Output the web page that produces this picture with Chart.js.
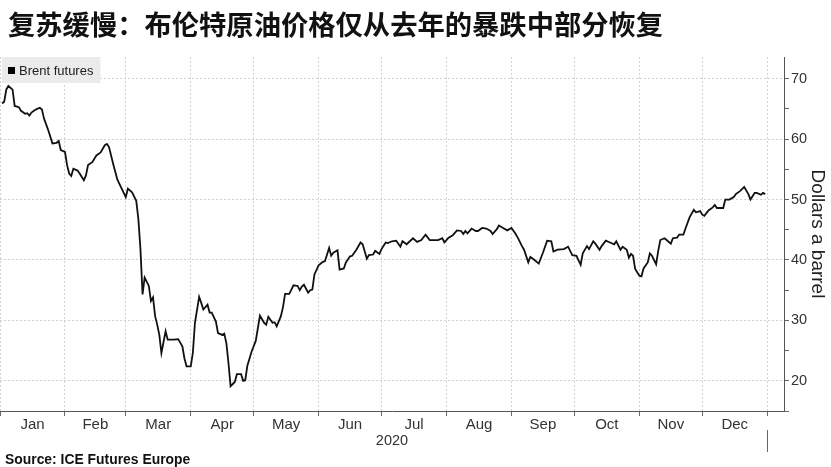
<!DOCTYPE html>
<html>
<head>
<meta charset="utf-8">
<script src="https://cdn.jsdelivr.net/npm/chart.js@4.4.0/dist/chart.umd.min.js"></script>
<style>
  html, body { margin: 0; padding: 0; background: #fff; }
  #wrap { position: relative; width: 831px; height: 467px; overflow: hidden; }
  #title { position: absolute; left: 8px; top: 3px; font: bold 27.3px "Noto Sans CJK SC", sans-serif; color: #111; white-space: nowrap; }
  #source { position: absolute; left: 5px; top: 451px; font: bold 13.9px "Liberation Sans", sans-serif; color: #111; }
  canvas { position: absolute; left: 0; top: 0; }
</style>
</head>
<body>
<div id="wrap">
  <canvas id="chart" width="831" height="467"></canvas>
  <div id="title">复苏缓慢：布伦特原油价格仅从去年的暴跌中部分恢复</div>
  <div id="source">Source: ICE Futures Europe</div>
</div>
<script>
// day of year 2020 (0 = Jan 1) and Brent settle
const days = [
  1, 2, 3, 4, 6, 7, 9, 10, 12, 13, 14, 15, 17, 19, 20, 21, 23, 25, 27, 28,
  29, 31, 32, 33, 34, 35, 37, 38, 40, 41, 42, 44, 46, 48, 50, 51, 52, 54, 56, 60,
  61, 63, 65, 66, 67, 68, 69, 71, 72, 73, 74, 75, 76, 77, 79, 80, 83, 85, 87, 88,
  89, 91, 92, 93, 95, 96, 97, 99, 100, 101, 103, 104, 106, 107, 108, 109, 110, 112, 113, 115,
  116, 117, 118, 120, 122, 124, 126, 127, 128, 130, 131, 132, 134, 135, 136, 138, 139, 140, 142, 143,
  144, 145, 147, 148, 149, 150, 152, 154, 155, 157, 158, 159, 161, 162, 164, 165, 167, 168, 170, 172,
  173, 175, 176, 178, 179, 181, 182, 184, 185, 187, 189, 191, 192, 194, 197, 199, 201, 203, 205, 208,
  209, 211, 212, 214, 216, 218, 220, 221, 222, 223, 225, 227, 228, 230, 232, 234, 235, 237, 238, 240,
  242, 244, 246, 247, 249, 250, 252, 253, 255, 257, 259, 261, 263, 264, 266, 269, 271, 273, 275, 277,
  278, 280, 281, 283, 284, 286, 287, 289, 291, 293, 294, 296, 297, 299, 300, 301, 302, 303, 305, 306,
  307, 309, 310, 311, 313, 314, 315, 317, 318, 320, 321, 323, 324, 326, 327, 329, 331, 332, 334, 335,
  336, 338, 340, 341, 342, 345, 346, 348, 350, 351, 353, 355, 357, 358, 360, 361, 363, 364, 365
];
const brent = [
  65.9, 66.2, 68.2, 68.8, 68.2, 65.5, 65.3, 64.7, 64.2, 64.3, 63.9, 64.4, 64.9, 65.2, 64.9, 63.4, 61.5, 59.3, 59.4, 59.7,
  58.2, 57.9, 55.7, 54.3, 53.9, 55.1, 54.8, 54.3, 53.2, 54.0, 55.7, 56.2, 57.3, 57.8, 59.0, 59.2, 58.7, 55.9, 53.3, 50.4,
  51.8, 51.2, 49.8, 46.8, 41.8, 34.3, 37.1, 35.7, 33.2, 33.8, 30.7, 29.3, 27.6, 24.6, 28.2, 26.8, 26.8, 26.9, 25.7, 23.7,
  22.4, 22.4, 24.6, 29.6, 33.9, 32.9, 31.8, 32.6, 31.3, 31.3, 29.8, 27.9, 27.6, 27.8, 26.2, 22.9, 19.1, 19.8, 21.1, 21.1,
  20.0, 20.1, 22.5, 24.8, 26.6, 30.8, 29.6, 29.3, 30.6, 29.6, 29.7, 29.0, 30.7, 32.2, 34.4, 34.4, 35.1, 35.8, 35.7, 35.0,
  35.6, 35.9, 34.6, 35.0, 35.1, 37.6, 39.1, 39.7, 39.8, 42.0, 40.7, 41.2, 41.6, 38.4, 38.6, 39.6, 40.6, 40.7, 41.7, 42.9,
  42.6, 40.2, 40.8, 40.9, 41.5, 41.0, 41.8, 42.9, 42.8, 43.1, 43.2, 42.2, 43.1, 42.6, 43.6, 43.0, 43.3, 44.2, 43.3, 43.3,
  43.3, 43.6, 42.9, 43.7, 44.1, 44.9, 44.8, 44.3, 44.8, 44.4, 45.2, 44.8, 44.8, 45.3, 45.2, 44.8, 44.3, 45.1, 45.7, 45.3,
  44.9, 45.3, 44.3, 43.7, 42.3, 41.7, 39.6, 40.5, 40.0, 39.4, 41.2, 43.2, 43.1, 41.4, 41.7, 41.8, 42.2, 40.8, 40.7, 39.2,
  41.1, 42.3, 41.8, 43.1, 42.7, 41.7, 42.3, 43.2, 42.9, 42.6, 43.1, 41.7, 42.2, 41.7, 40.4, 41.0, 40.7, 38.5, 37.4, 37.3,
  38.6, 39.6, 41.1, 40.7, 39.3, 41.5, 43.3, 43.6, 43.3, 42.7, 43.6, 43.7, 44.2, 44.2, 45.2, 47.1, 48.3, 47.9, 48.1, 47.5,
  47.3, 48.2, 48.7, 49.1, 48.6, 48.6, 50.0, 50.0, 50.4, 50.9, 51.4, 52.1, 50.9, 50.0, 51.1, 51.1, 50.8, 51.1, 50.9
];

const monthStarts = [0, 31, 60, 91, 121, 152, 182, 213, 244, 274, 305, 335, 366];
const monthLabels = ['Jan', 'Feb', 'Mar', 'Apr', 'May', 'Jun', 'Jul', 'Aug', 'Sep', 'Oct', 'Nov', 'Dec'];
const yearLabel = '2020';
const seriesName = 'Brent futures';
const axisTitle = 'Dollars a barrel';

const sans = '"Liberation Sans", Arial, sans-serif';
const monthMids = monthLabels.map((m, i) => (monthStarts[i] + monthStarts[i + 1]) / 2);

// grey legend box in the top left corner of the plot
const legendBox = {
  id: 'legendBox',
  beforeDatasetsDraw(chart) {
    const ctx = chart.ctx;
    const area = chart.chartArea;
    const label = chart.data.datasets[0].label;
    ctx.save();
    ctx.font = '13px ' + sans;
    const w = ctx.measureText(label).width;
    ctx.fillStyle = '#ebebeb';
    ctx.fillRect(area.left + 2, area.top, w + 24, 26);
    ctx.fillStyle = '#000';
    ctx.fillRect(area.left + 8, area.top + 10, 7, 7);
    ctx.fillStyle = '#222';
    ctx.textBaseline = 'middle';
    ctx.fillText(label, area.left + 19, area.top + 14);
    ctx.restore();
  },
  afterDraw(chart) {
    // longer tick at the year boundary
    const ctx = chart.ctx;
    const xs = chart.scales.x;
    const px = Math.round(xs.getPixelForValue(monthStarts[monthStarts.length - 1])) + 0.5;
    ctx.save();
    ctx.strokeStyle = '#666';
    ctx.lineWidth = 1;
    ctx.beginPath();
    ctx.moveTo(px, xs.bottom + 14);
    ctx.lineTo(px, xs.bottom + 36);
    ctx.stroke();
    ctx.restore();
  }
};

new Chart(document.getElementById('chart'), {
  type: 'line',
  data: {
    datasets: [{
      label: seriesName,
      data: days.map((d, i) => ({ x: d, y: brent[i] })),
      borderColor: '#111',
      borderWidth: 1.8,
      pointRadius: 0,
      tension: 0,
      fill: false
    }]
  },
  options: {
    responsive: false,
    animation: false,
    layout: { padding: { top: 57, left: 0, right: 0, bottom: 14 } },
    plugins: {
      legend: { display: false },
      tooltip: { enabled: false }
    },
    scales: {
      x: {
        type: 'linear',
        min: 0,
        max: 374,
        weight: 0,
        afterBuildTicks: (s) => { s.ticks = monthStarts.map(v => ({ value: v })); },
        afterFit: (s) => { s.height = 5; },
        ticks: { display: false },
        grid: { color: '#d2d2d2', tickColor: '#666', tickLength: 5, lineWidth: 1 },
        border: { display: true, color: '#555', width: 1, dash: [2, 2] }
      },
      x2: {
        type: 'linear',
        axis: 'x',
        position: 'bottom',
        min: 0,
        max: 374,
        weight: 1,
        afterBuildTicks: (s) => { s.ticks = monthMids.map(v => ({ value: v })); },
        afterFit: (s) => { s.height = 37; },
        ticks: {
          autoSkip: false,
          maxRotation: 0,
          padding: 0,
          color: '#333',
          font: { family: sans, size: 15 },
          callback: (v, i) => monthLabels[i]
        },
        grid: { display: false, drawTicks: false, tickLength: 0 },
        border: { display: false },
        title: {
          display: true,
          text: yearLabel,
          color: '#333',
          font: { family: sans, size: 14.5 },
          padding: { top: 0, bottom: 3 }
        }
      },
      y: {
        position: 'right',
        min: 15,
        max: 73.6,
        afterFit: (s) => { s.width = 47; },
        ticks: {
          stepSize: 5,
          includeBounds: false,
          padding: 2,
          color: '#333',
          font: { family: sans, size: 14.5 },
          callback: (v) => (v % 10 === 0 ? v : '')
        },
        grid: {
          color: (c) => (c.tick && c.tick.value % 10 === 0 ? '#d2d2d2' : 'rgba(0,0,0,0)'),
          tickColor: '#666',
          tickLength: 5
        },
        border: { display: true, color: '#555', width: 1, dash: [2, 2] },
        title: {
          display: true,
          text: axisTitle,
          color: '#222',
          font: { family: sans, size: 19 },
          padding: { top: 2, bottom: 0 }
        }
      }
    }
  },
  plugins: [legendBox]
});
</script>
</body>
</html>
